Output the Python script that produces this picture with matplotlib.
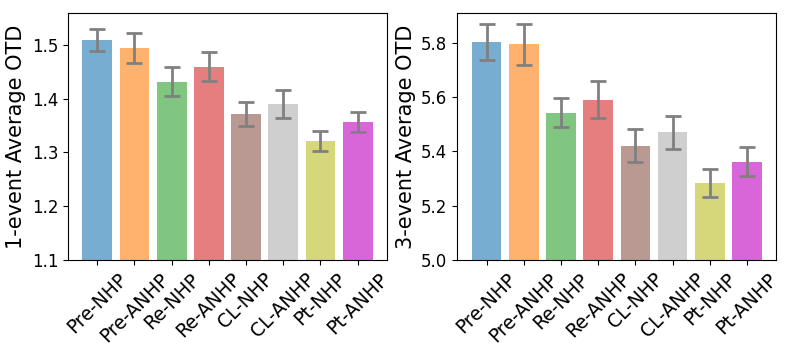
import numpy as np
import matplotlib.pyplot as plt

# Datos
metodos = ['Pre-NHP', 'Pre-ANHP', 'Re-NHP', 'Re-ANHP', 'CL-NHP', 'CL-ANHP', 'Pt-NHP', 'Pt-ANHP']
otd_1 = [1.510, 1.494, 1.432, 1.460, 1.372, 1.391, 1.321, 1.357]
err_1 = [0.020, 0.028, 0.027, 0.027, 0.022, 0.026, 0.019, 0.019]
otd_3 = [5.803, 5.795, 5.543, 5.590, 5.421, 5.470, 5.284, 5.362]
err_3 = [0.068, 0.076, 0.053, 0.068, 0.061, 0.060, 0.052, 0.053]

colores = ['tab:blue', 'tab:orange', 'tab:green', 'tab:red',
           'tab:brown', '#b0b0b0', 'tab:olive', 'm']


def panel(ax, valores, errores, ylabel, ylim, ticks):
    x = np.arange(len(metodos))
    ax.bar(x, valores, width=0.8, color=colores, alpha=0.6,
           yerr=errores, ecolor='gray', capsize=6,
           error_kw={'elinewidth': 2, 'capthick': 2})
    ax.set_xticks(x)
    ax.set_xticklabels(metodos, rotation=45, fontsize=13.5)
    ax.set_ylim(*ylim)
    ax.set_yticks(ticks)
    ax.tick_params(axis='y', labelsize=12)
    ax.set_ylabel(ylabel, fontsize=15)


fig, (ax1, ax2) = plt.subplots(1, 2, figsize=(7.89, 3.51), dpi=100)
panel(ax1, otd_1, err_1, '1-event Average OTD', (1.1, 1.56),
      [1.1, 1.2, 1.3, 1.4, 1.5])
panel(ax2, otd_3, err_3, '3-event Average OTD', (5.0, 5.91),
      [5.0, 5.2, 5.4, 5.6, 5.8])
fig.subplots_adjust(left=0.086, right=0.984, top=0.963, bottom=0.26, wspace=0.22)
fig.savefig('out.png')
